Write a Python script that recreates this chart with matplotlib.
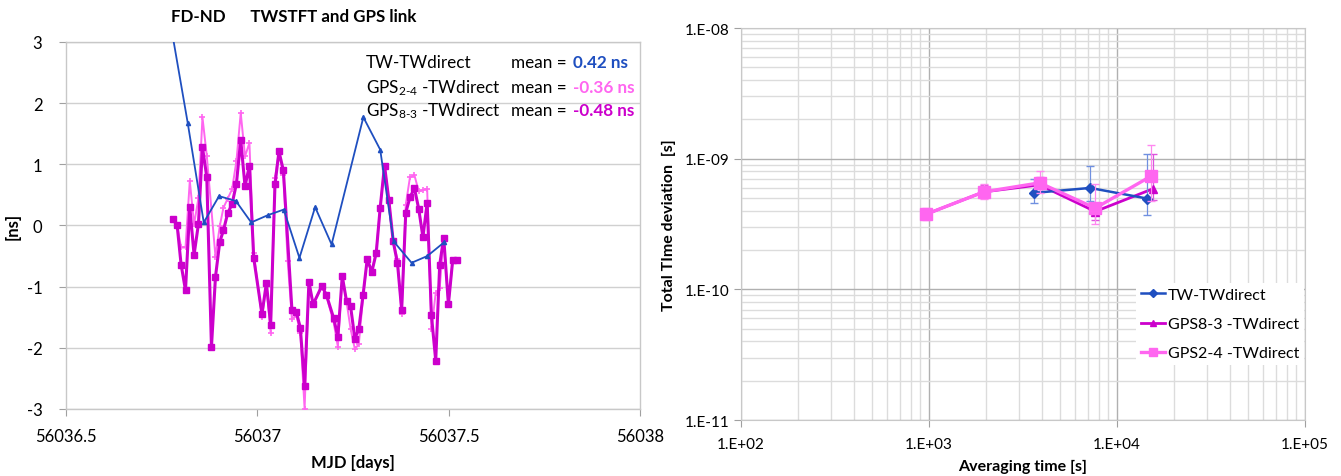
import matplotlib
matplotlib.use("Agg")
import matplotlib.pyplot as plt
from matplotlib.lines import Line2D
import numpy as np

plt.rcParams['font.family'] = ['Lato', 'DejaVu Sans']
plt.rcParams['mathtext.fontset'] = 'custom'
plt.rcParams['mathtext.rm'] = 'Lato'
plt.rcParams['mathtext.it'] = 'Lato'

# ---------------- left chart data ----------------
tw_mjd = [56036.776, 56036.818, 56036.860, 56036.900, 56036.944, 56036.984, 56037.028,
          56037.069, 56037.110, 56037.151, 56037.194, 56037.277, 56037.321, 56037.356,
          56037.403, 56037.444, 56037.489]
tw_ns = [3.2, 1.68, 0.05, 0.48, 0.40, 0.05, 0.17, 0.26, -0.53, 0.30, -0.31, 1.77, 1.24,
         -0.26, -0.61, -0.50, -0.27]

g83_mjd = [56036.7784, 56036.7904, 56036.8008, 56036.8123, 56036.8235, 56036.8347, 56036.8462,
           56036.8566, 56036.8679, 56036.8801, 56036.8906, 56036.9018, 56036.9114, 56036.9226,
           56036.9339, 56036.9453, 56036.9566, 56036.9678, 56036.9793, 56036.9905, 56037.0121,
           56037.0236, 56037.0348, 56037.0461, 56037.0565, 56037.0680, 56037.0904, 56037.1019,
           56037.1123, 56037.1235, 56037.1348, 56037.1457, 56037.1684, 56037.1802, 56037.1992,
           56037.2104, 56037.2219, 56037.2331, 56037.2436, 56037.2548, 56037.2652, 56037.2762,
           56037.2871, 56037.2991, 56037.3106, 56037.3210, 56037.3323, 56037.3435, 56037.3550,
           56037.3662, 56037.3771, 56037.3878, 56037.3988, 56037.4105, 56037.4217, 56037.4327,
           56037.4437, 56037.4549, 56037.4661, 56037.4765, 56037.4870, 56037.4992, 56037.5104,
           56037.5209]
g83_ns = [0.11, 0.005, -0.64, -1.06, 0.30, -0.48, 0.03, 1.28, 0.79, -1.99, -0.84, -0.27, -0.08,
          0.20, 0.35, 0.68, 1.40, 0.64, 0.98, -0.53, -1.45, -0.94, -1.62, 0.67, 1.21, 0.90,
          -1.38, -1.42, -1.67, -2.63, -0.92, -1.29, -0.99, -1.13, -1.51, -1.82, -0.83, -1.24,
          -1.32, -1.85, -1.69, -1.14, -0.55, -0.76, -0.45, 0.29, 0.98, 0.42, -0.26, -0.62,
          -1.38, 0.21, 0.46, 0.61, 0.27, -0.19, 0.37, -1.47, -2.21, -0.64, -0.20, -1.29,
          -0.57, -0.57]

g24_mjd = [56036.7784, 56036.7904, 56036.8008, 56036.8123, 56036.8235, 56036.8347, 56036.8462,
           56036.8566, 56036.8679, 56036.8906, 56036.9018, 56036.9114, 56036.9226,
           56036.9339, 56036.9453, 56036.9566, 56036.9678, 56036.9793, 56036.9905, 56037.0121,
           56037.0236, 56037.0348, 56037.0461, 56037.0565, 56037.0680, 56037.0792, 56037.0904,
           56037.1019, 56037.1123, 56037.1235, 56037.1348, 56037.1457, 56037.1684, 56037.1802,
           56037.1992, 56037.2104, 56037.2219, 56037.2331, 56037.2436, 56037.2548, 56037.2652,
           56037.2762, 56037.2871, 56037.2991, 56037.3106, 56037.3210, 56037.3323, 56037.3435,
           56037.3550, 56037.3662, 56037.3771, 56037.3878, 56037.3988, 56037.4105, 56037.4217,
           56037.4327, 56037.4437, 56037.4549, 56037.4661, 56037.4765, 56037.4870, 56037.4992,
           56037.5104, 56037.5209]
g24_ns = [0.11, 0.0, -0.36, -0.36, 0.73, 0.02, 0.45, 1.77, 1.14, -0.51, -0.01, 0.29, 0.44,
          0.59, 1.05, 1.84, 1.13, 1.35, -0.45, -1.50, -0.98, -1.75, 0.78, 1.21, 0.83, -0.58,
          -1.53, -1.47, -1.75, -3.0, -0.94, -1.29, -1.00, -1.15, -1.58, -1.98, -0.83, -1.25,
          -1.69, -2.02, -1.94, -1.17, -0.55, -0.76, -0.43, 0.30, 0.98, 0.42, -0.26, -0.55,
          -1.45, 0.34, 0.79, 0.82, 0.56, 0.58, 0.60, -1.70, -1.10, -1.02, -0.20, -1.29,
          -0.57, -0.57]

mean_labels = ["TW-TWdirect", r"GPS$_{\text{2-4}}$ -TWdirect", r"GPS$_{\text{8-3}}$ -TWdirect"]
mean_values = ["0.42 ns", "-0.36 ns", "-0.48 ns"]

# ---------------- right chart data ----------------
tau_tw = [3614, 7195, 14480]
tdev_tw = [5.47e-10, 5.97e-10, 4.95e-10]
lo_tw = [4.56e-10, 4.75e-10, 3.69e-10]
hi_tw = [6.97e-10, 8.8e-10, 1.09e-9]

tau_83 = [966, 1955, 3874, 7656, 15600]
tdev_83 = [3.76e-10, 5.57e-10, 6.3e-10, 3.94e-10, 5.9e-10]
lo_83 = [3.5e-10, 5.0e-10, 5.6e-10, 3.4e-10, 4.8e-10]
hi_83 = [4.1e-10, 6.3e-10, 7.2e-10, 4.6e-10, 1.08e-9]

tau_24 = [966, 1955, 3874, 7656, 15240]
tdev_24 = [3.76e-10, 5.57e-10, 6.53e-10, 4.18e-10, 7.38e-10]
lo_24 = [3.4e-10, 4.95e-10, 5.5e-10, 3.16e-10, 4.75e-10]
hi_24 = [4.18e-10, 6.45e-10, 8.05e-10, 6.38e-10, 1.28e-9]

legend_labels = ["TW-TWdirect", "GPS8-3 -TWdirect", "GPS2-4 -TWdirect"]

BLUE = "#1F4FC0"
MAG = "#CC00CC"
PINK = "#FF66F0"
GRID = "#D0D0D0"

fig = plt.figure(figsize=(13.41, 4.77), dpi=100)

# ================= left =================
ax = fig.add_axes([0.0492, 0.1405, 0.4281, 0.7694])
ax.plot(g24_mjd, g24_ns, color=PINK, lw=1.4, marker='+', ms=4, mew=1.2, zorder=3)
ax.plot(g83_mjd, g83_ns, color=MAG, lw=2.2, marker='s', ms=4, zorder=4)
ax.plot(tw_mjd, tw_ns, color=BLUE, lw=1.3, marker='^', ms=3, zorder=5)
ax.set_xlim(56036.5, 56038)
ax.set_ylim(-3, 3)
ax.set_xticks([56036.5, 56037, 56037.5, 56038])
ax.set_xticklabels(["56036.5", "56037", "56037.5", "56038"])
ax.set_yticks([-3, -2, -1, 0, 1, 2, 3])
ax.set_yticklabels(["-3", "-2", "-1", "0", "1", "2", "3"])
ax.tick_params(axis='both', labelsize=12, color='#A0A0A0', length=5, direction='out')
ax.tick_params(axis='y', pad=12)
ax.tick_params(axis='x', pad=9)
ax.yaxis.grid(True, color=GRID, lw=1.0)
ax.set_axisbelow(True)
for s in ax.spines.values():
    s.set_color('#C8C8C8')
    s.set_linewidth(1.0)
ax.set_xlabel("MJD [days]", fontsize=12, fontweight='bold', labelpad=7)
ax.set_ylabel("[ns]", fontsize=12, fontweight='bold', labelpad=4)
fig.text(294 / 1341, 1 - 17 / 477, "FD-ND      TWSTFT and GPS link", ha='center', va='center',
         fontsize=12.2, fontweight='bold')

cols = [BLUE, PINK, MAG]
rows_y = [63, 88, 111]
for lab, val, c, yy in zip(mean_labels, mean_values, cols, rows_y):
    yf = 1 - yy / 477
    fig.text(366 / 1341, yf, lab, ha='left', va='center', fontsize=12.3)
    fig.text(511 / 1341, yf, "mean = ", ha='left', va='center', fontsize=12.3)
    fig.text(573 / 1341, yf, val, ha='left', va='center', fontsize=12.3, fontweight='bold', color=c)

# ================= right =================
ax2 = fig.add_axes([0.5526, 0.1174, 0.4206, 0.8218])
ax2.set_xscale('log')
ax2.set_yscale('log')
ax2.set_xlim(1e2, 1e5)
ax2.set_ylim(1e-11, 1e-8)

def err(y, lo, hi):
    y = np.asarray(y); lo = np.asarray(lo); hi = np.asarray(hi)
    return np.vstack([y - lo, hi - y])

ax2.errorbar(tau_tw, tdev_tw, yerr=err(tdev_tw, lo_tw, hi_tw), color=BLUE, lw=1.8, marker='D', ms=5,
             ecolor='#7090E0', elinewidth=0.9, capsize=3, zorder=5)
ax2.errorbar(tau_83, tdev_83, yerr=err(tdev_83, lo_83, hi_83), color=MAG, lw=2.0, marker='^', ms=6,
             ecolor='#DD55DD', elinewidth=0.9, capsize=3, zorder=4)
ax2.errorbar(tau_24, tdev_24, yerr=err(tdev_24, lo_24, hi_24), color=PINK, lw=2.4, marker='s', ms=8,
             ecolor='#FF88F0', elinewidth=0.9, capsize=3, zorder=6)

ax2.set_xticks([1e2, 1e3, 1e4, 1e5])
ax2.set_xticklabels(["1.E+02", "1.E+03", "1.E+04", "1.E+05"])
ax2.set_yticks([1e-11, 1e-10, 1e-9, 1e-8])
ax2.set_yticklabels(["1.E-11", "1.E-10", "1.E-09", "1.E-08"])
ax2.tick_params(axis='both', which='major', labelsize=11, color='#A0A0A0', length=5)
ax2.tick_params(axis='both', which='minor', length=0)
ax2.tick_params(axis='x', pad=7)
ax2.grid(True, which='major', color='#B0B0B0', lw=1.0)
ax2.grid(True, which='minor', color='#DCDCDC', lw=1.0)
ax2.set_axisbelow(True)
for k, s in ax2.spines.items():
    s.set_color('#C8C8C8')
ax2.set_xlabel("Averaging time [s]", fontsize=11.5, fontweight='bold', labelpad=6)
ax2.set_ylabel("Total TIme deviation  [s]", fontsize=11.5, fontweight='bold', labelpad=6)

handles = [Line2D([], [], color=BLUE, lw=1.8, marker='D', ms=4),
           Line2D([], [], color=MAG, lw=2.0, marker='^', ms=5),
           Line2D([], [], color=PINK, lw=2.4, marker='s', ms=6)]
leg = ax2.legend(handles, legend_labels, loc='upper left', bbox_to_anchor=(0.70, 0.35),
                 frameon=True, fontsize=11.5, handlelength=1.5, handletextpad=0.2,
                 borderpad=0.3, labelspacing=0.95, borderaxespad=0)
leg.get_frame().set_edgecolor('none')
leg.get_frame().set_facecolor('white')
leg.get_frame().set_alpha(1.0)

fig.savefig("out.png", dpi=100)
